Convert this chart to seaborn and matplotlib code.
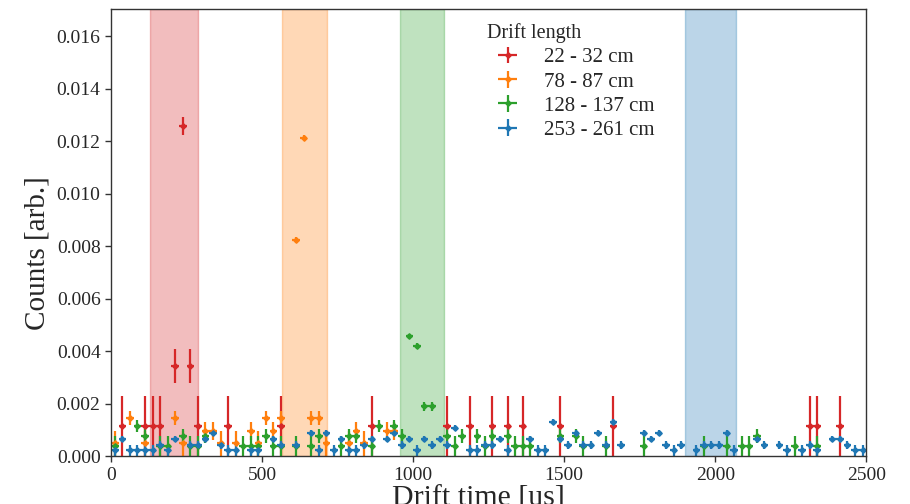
import numpy as np
import matplotlib
matplotlib.use('Agg')
import matplotlib.pyplot as plt
from matplotlib.legend_handler import HandlerErrorbar
import seaborn as sns

# bin centres [us] and counts per bin (empty bins left out)
red_x = [37.5, 112.5, 137.5, 162.5, 212.5, 237.5, 262.5, 287.5, 387.5, 562.5, 862.5,
         1112.5, 1187.5, 1262.5, 1312.5, 1362.5, 1487.5, 1662.5, 2312.5, 2337.5, 2412.5]
red_n = [1, 1, 1, 1, 3, 11, 3, 1, 1, 1, 1,
         1, 1, 1, 1, 1, 1, 1, 1, 1, 1]

orange_x = [12.5, 62.5, 112.5, 212.5, 237.5, 312.5, 337.5, 362.5, 412.5, 462.5, 487.5,
            512.5, 537.5, 562.5, 612.5, 637.5, 662.5, 687.5, 712.5, 787.5, 812.5, 837.5,
            912.5, 937.5]
orange_n = [1, 3, 1, 3, 1, 2, 2, 1, 1, 2, 1,
            3, 2, 3, 17, 25, 3, 3, 1, 1, 2, 1,
            2, 2]

green_x = [12.5, 87.5, 112.5, 162.5, 187.5, 237.5, 262.5, 287.5, 312.5, 437.5, 462.5,
           487.5, 512.5, 537.5, 562.5, 612.5, 662.5, 687.5, 762.5, 787.5, 812.5, 862.5,
           887.5, 937.5, 962.5, 987.5, 1012.5, 1037.5, 1062.5, 1112.5, 1137.5, 1162.5,
           1212.5, 1237.5, 1262.5, 1312.5, 1337.5, 1362.5, 1387.5, 1487.5, 1537.5, 1562.5,
           1637.5, 1762.5, 1962.5, 2037.5, 2087.5, 2112.5, 2137.5, 2262.5, 2337.5]
green_n = [1, 3, 2, 1, 1, 2, 1, 1, 2, 1, 1,
           1, 2, 1, 1, 1, 1, 2, 1, 2, 2, 1,
           3, 3, 2, 12, 11, 5, 5, 2, 1, 2,
           2, 1, 2, 2, 1, 1, 1, 2, 2, 1,
           1, 1, 1, 1, 1, 1, 2, 1, 1]

blue_x = [12.5, 37.5, 62.5, 87.5, 112.5, 137.5, 162.5, 187.5, 212.5, 262.5, 287.5,
          312.5, 337.5, 362.5, 387.5, 412.5, 462.5, 487.5, 537.5, 562.5, 612.5, 662.5,
          687.5, 712.5, 737.5, 762.5, 787.5, 812.5, 837.5, 862.5, 912.5, 937.5, 962.5,
          987.5, 1012.5, 1037.5, 1062.5, 1087.5, 1112.5, 1137.5, 1187.5, 1212.5, 1237.5,
          1262.5, 1287.5, 1312.5, 1387.5, 1412.5, 1437.5, 1462.5, 1487.5, 1512.5, 1537.5,
          1562.5, 1587.5, 1612.5, 1637.5, 1662.5, 1687.5, 1762.5, 1787.5, 1812.5, 1837.5,
          1862.5, 1887.5, 1937.5, 1962.5, 1987.5, 2012.5, 2037.5, 2062.5, 2137.5, 2162.5,
          2212.5, 2237.5, 2287.5, 2312.5, 2337.5, 2387.5, 2412.5, 2437.5, 2462.5, 2487.5]
blue_n = [1, 3, 1, 1, 1, 1, 2, 1, 3, 2, 2,
          3, 4, 2, 1, 1, 1, 1, 3, 2, 2, 4,
          1, 4, 1, 3, 1, 1, 2, 3, 3, 4, 2,
          3, 1, 3, 2, 3, 2, 5, 1, 1, 2,
          2, 3, 1, 3, 1, 1, 6, 3, 2, 4,
          2, 2, 4, 2, 6, 2, 4, 3, 4, 2,
          1, 2, 1, 2, 2, 2, 4, 1, 3, 2,
          2, 1, 1, 2, 1, 3, 3, 2, 1, 1]

# one count in arb. units, per drift-length slice
units = [0.001143, 0.000485, 0.00038, 0.000218]
labels = ['22 - 32 cm', '78 - 87 cm', '128 - 137 cm', '253 - 261 cm']
bands = [(129, 288), (566, 715), (957, 1103), (1901, 2070)]
bin_half = 12.5

sns.set_theme(style='ticks')
plt.rcParams['font.family'] = ['Liberation Serif', 'DejaVu Serif']
colors = sns.color_palette('tab10')
cols = [colors[3], colors[1], colors[2], colors[0]]

fig = plt.figure(figsize=(9.1, 5.04), dpi=100)
ax = fig.add_axes([0.122, 0.095, 0.830, 0.887])

for (lo, hi), c in zip(bands, cols):
    ax.axvspan(lo, hi, color=c, alpha=0.3, lw=1)

series = [(red_x, red_n), (orange_x, orange_n), (green_x, green_n), (blue_x, blue_n)]
for (xs, ns), u, c, lab in zip(series, units, cols, labels):
    n = np.array(ns, dtype=float)
    y = n * u
    yerr = u / np.sqrt(n)
    ax.errorbar(xs, y, yerr=yerr, xerr=bin_half, fmt='D', ms=2.8, color=c,
                elinewidth=1.6, capsize=0, label=lab)

ax.set_xlim(0, 2500)
ax.set_ylim(0, 0.01703)
ax.set_xticks(np.arange(0, 2501, 500))
ax.set_yticks(np.arange(0, 0.0161, 0.002))
ax.yaxis.set_major_formatter(matplotlib.ticker.FormatStrFormatter('%.3f'))
ax.tick_params(labelsize=14, length=4, width=1, color='#333333')
for s in ax.spines.values():
    s.set_color('#333333')
    s.set_linewidth(1)

ax.set_xlabel('Drift time [us]', fontsize=21.5)
ax.set_ylabel('Counts [arb.]', fontsize=21)
ax.xaxis.set_label_coords(0.487, -0.066)
ax.yaxis.set_label_coords(-0.08, 0.453)

leg = ax.legend(title='Drift length', loc='upper left', bbox_to_anchor=(0.473, 1.01),
                frameon=False, fontsize=15, title_fontsize=14.5, labelspacing=0.22,
                handlelength=2.0, handletextpad=0.75, alignment='left',
                handler_map={matplotlib.container.ErrorbarContainer:
                             HandlerErrorbar(xerr_size=0.45, yerr_size=0.4)})

fig.savefig('out.png', dpi=100)
